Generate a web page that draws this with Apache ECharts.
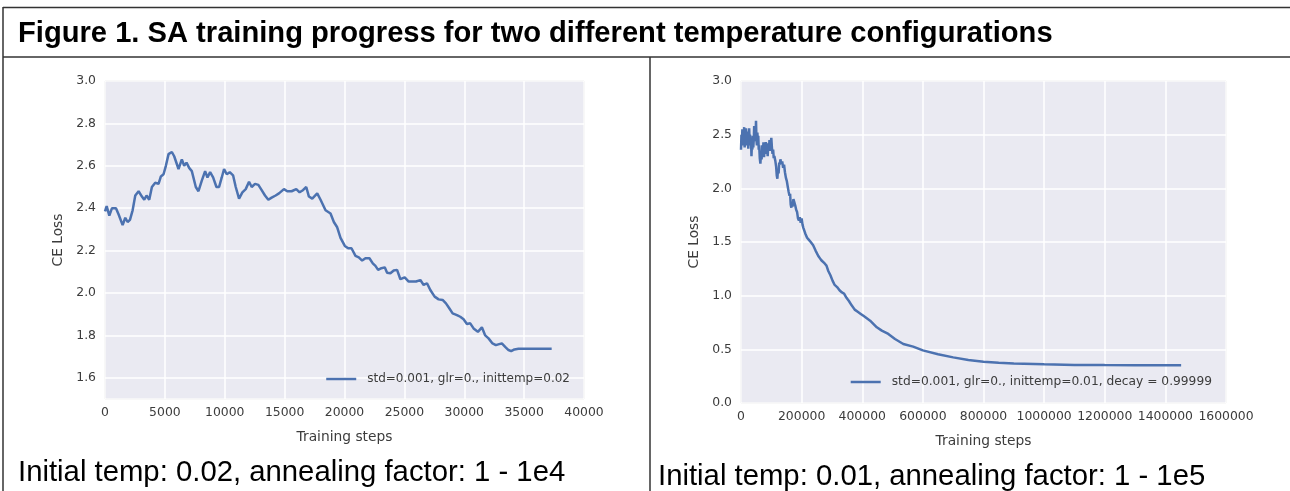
<!DOCTYPE html>
<html>
<head>
<meta charset="utf-8">
<script src="https://cdn.jsdelivr.net/npm/echarts@6/dist/echarts.min.js"></script>
<style>
html,body{margin:0;padding:0;background:#fff;}
#c{width:1290px;height:491px;}
</style>
</head>
<body>
<div id="c"></div>
<script>
// ---- text ----
var figTitle = 'Figure 1. SA training progress for two different temperature configurations';
var captionLeft = 'Initial temp: 0.02, annealing factor: 1 - 1e4';
var captionRight = 'Initial temp: 0.01, annealing factor: 1 - 1e5';
var nameLeft = 'std=0.001, glr=0., inittemp=0.02';
var nameRight = 'std=0.001, glr=0., inittemp=0.01, decay = 0.99999';
var xName = 'Training steps';
var yName = 'CE Loss';

// ---- left chart data ----
var leftSteps = [0,139,361,583,917,1139,1472,1694,1889,2083,2306,2528,2806,3083,3278,3472,3694,3917,4194,4472,4667,4889,5083,5306,5583,5778,6139,6417,6611,6806,7028,7250,7583,7806,8083,8361,8556,8778,9028,9306,9528,9750,9944,10167,10417,10694,10917,11194,11472,11750,12028,12250,12528,12806,13083,13361,13639,13917,14250,14528,14944,15222,15583,15972,16250,16528,16806,17028,17306,17722,18000,18417,18833,19111,19389,19667,20028,20306,20583,20917,21194,21472,21750,22083,22361,22583,22806,23083,23361,23556,23833,24111,24389,24667,25028,25361,25639,25972,26333,26611,26889,27167,27528,27861,28194,28472,28750,29028,29389,29667,29944,30222,30500,30778,31139,31472,31750,32028,32361,32639,32917,33139,33417,33694,33917,34194,34528,35361,36472,37300];
var leftLoss  = [2.385,2.41,2.365,2.40,2.40,2.37,2.32,2.355,2.335,2.345,2.39,2.46,2.48,2.455,2.44,2.46,2.44,2.50,2.52,2.515,2.55,2.56,2.60,2.655,2.665,2.645,2.585,2.63,2.60,2.615,2.59,2.575,2.50,2.48,2.53,2.575,2.545,2.57,2.545,2.50,2.50,2.545,2.585,2.56,2.57,2.555,2.50,2.445,2.475,2.49,2.525,2.50,2.515,2.51,2.485,2.46,2.44,2.45,2.46,2.47,2.49,2.48,2.48,2.49,2.475,2.485,2.50,2.455,2.445,2.47,2.44,2.39,2.375,2.335,2.31,2.26,2.222,2.211,2.211,2.175,2.168,2.153,2.164,2.164,2.14,2.128,2.109,2.117,2.121,2.096,2.093,2.106,2.109,2.065,2.074,2.054,2.054,2.054,2.061,2.038,2.046,2.014,1.983,1.970,1.967,1.951,1.928,1.904,1.896,1.888,1.876,1.854,1.857,1.833,1.817,1.838,1.80,1.786,1.762,1.754,1.759,1.762,1.746,1.731,1.726,1.734,1.737,1.737,1.737,1.737];

// ---- right chart data ----
var rightSteps = [0,1500,3000,4500,6000,7500,9000,10500,12000,13500,15000,16500,18000,19500,21000,22500,24000,25500,27000,28500,30000,31500,33000,34500,36000,37500,39000,40500,42000,43500,45000,46500,48000,49500,51000,52500,54000,55500,57000,58500,60000,62000,64000,66000,68000,70000,72000,74000,76000,78000,80000,82000,84000,86000,88000,90000,92000,94000,96000,98000,100000,102000,104000,106000,108000,110000,113000,116000,118000,120000,122000,124000,126000,128000,130000,133000,136000,139000,142000,145000,148000,151000,154000,157000,160000,162000,164000,166000,168000,170000,173000,176000,179000,182000,185000,188000,191000,194000,197000,200000,203000,206000,209000,212000,215000,218000,221000,224000,227000,230000,234000,238000,242000,246000,250000,255000,260000,265000,270000,276000,282000,288000,295000,302000,309000,317000,325000,333000,340000,348000,356000,365000,375000,385000,395000,405000,426000,448000,464500,486000,508000,535500,568000,600000,650000,700000,750000,800000,850000,900000,1000000,1100000,1200000,1300000,1452000];
var rightLoss  = [2.36,2.50,2.42,2.55,2.40,2.52,2.44,2.57,2.38,2.50,2.45,2.56,2.40,2.52,2.46,2.53,2.37,2.48,2.56,2.42,2.50,2.40,2.47,2.30,2.42,2.36,2.49,2.38,2.45,2.58,2.44,2.55,2.47,2.63,2.45,2.40,2.52,2.44,2.49,2.36,2.40,2.28,2.23,2.34,2.27,2.40,2.30,2.43,2.29,2.38,2.33,2.43,2.32,2.40,2.30,2.42,2.36,2.45,2.35,2.41,2.47,2.38,2.32,2.36,2.28,2.30,2.26,2.20,2.12,2.09,2.18,2.14,2.24,2.22,2.27,2.23,2.25,2.19,2.22,2.15,2.10,2.07,2.02,1.97,1.93,1.95,1.85,1.82,1.86,1.83,1.90,1.87,1.84,1.80,1.78,1.72,1.70,1.73,1.68,1.72,1.66,1.63,1.62,1.58,1.57,1.54,1.55,1.52,1.53,1.50,1.49,1.47,1.46,1.42,1.41,1.37,1.35,1.33,1.32,1.30,1.28,1.23,1.19,1.14,1.10,1.08,1.05,1.03,1.02,0.98,0.95,0.91,0.87,0.85,0.83,0.81,0.767,0.705,0.674,0.643,0.596,0.55,0.525,0.49,0.455,0.425,0.40,0.385,0.375,0.368,0.36,0.355,0.353,0.352,0.352];

// ---- axes ----
var leftXMax = 40000, leftXInterval = 5000;
var leftYMin = 1.5, leftYMax = 3.0;
var rightXMax = 1600000, rightXInterval = 200000;
var rightYMin = 0, rightYMax = 3.0, rightYInterval = 0.5;

function pairs(xs, ys){ var o=[]; for (var i=0;i<xs.length;i++) o.push([xs[i], ys[i]]); return o; }

var FONT = '"Liberation Sans", Arial, sans-serif';
var CFONT = '"DejaVu Sans", sans-serif';
var tickColor = '#3c3c3c';
var lineColor = '#4C72B0';
var bg = '#EAEAF2';

function xAxisCfg(gi, max, interval){
  return {
    type:'value', gridIndex:gi, min:0, max:max, interval:interval,
    name:xName, nameLocation:'middle', nameGap:31,
    nameTextStyle:{color:tickColor, fontSize:13.8, fontFamily:CFONT},
    axisLine:{show:false}, axisTick:{show:false},
    axisLabel:{color:tickColor, fontSize:12.4, fontFamily:CFONT, margin:8,
      formatter:function(v){ return String(v); }},
    splitLine:{show:true, lineStyle:{color:'#ffffff', width:1.5}}
  };
}
function yAxisCfg(gi, min, max, interval, split){
  var c = {
    type:'value', gridIndex:gi, min:min, max:max,
    name:yName, nameLocation:'middle', nameGap:40,
    nameTextStyle:{color:tickColor, fontSize:13.8, fontFamily:CFONT},
    axisLine:{show:false}, axisTick:{show:false},
    axisLabel:{color:tickColor, fontSize:12.4, fontFamily:CFONT, margin:9, showMinLabel: min!==1.5,
      formatter:function(v){ return v.toFixed(1); }},
    splitLine:{show:true, lineStyle:{color:'#ffffff', width:1.5}}
  };
  if (interval) c.interval = interval; else c.splitNumber = split;
  return c;
}

var chart = echarts.init(document.getElementById('c'), null, {renderer:'canvas'});
chart.setOption({
  backgroundColor:'#ffffff',
  animation:false,
  title:[
    {text:figTitle, left:13, top:14, textStyle:{fontFamily:FONT, fontWeight:'bold', fontSize:29.15, color:'#000'}},
    {text:captionLeft, left:13, top:453, textStyle:{fontFamily:FONT, fontWeight:'normal', fontSize:29.3, color:'#000'}},
    {text:captionRight, left:653, top:457, textStyle:{fontFamily:FONT, fontWeight:'normal', fontSize:29.3, color:'#000'}}
  ],
  grid:[
    {left:105, top:81, width:479, height:318, show:true, backgroundColor:bg, borderColor:'#c4c4c8', borderWidth:1},
    {left:741, top:81, width:485, height:322, show:true, backgroundColor:bg, borderColor:'#c4c4c8', borderWidth:1}
  ],
  xAxis:[ xAxisCfg(0, leftXMax, leftXInterval), xAxisCfg(1, rightXMax, rightXInterval) ],
  yAxis:[ yAxisCfg(0, leftYMin, leftYMax, null, 7), yAxisCfg(1, rightYMin, rightYMax, rightYInterval) ],
  legend:[
    {data:[nameLeft], right:715, top:368, icon:'rect', itemWidth:30, itemHeight:2.5,
     textStyle:{color:tickColor, fontSize:12.0, fontFamily:CFONT, padding:[0,0,0,6]}},
    {data:[nameRight], right:73, top:371, icon:'rect', itemWidth:30, itemHeight:2.5,
     textStyle:{color:tickColor, fontSize:12.25, fontFamily:CFONT, padding:[0,0,0,6]}}
  ],
  series:[
    {type:'line', name:nameLeft, xAxisIndex:0, yAxisIndex:0, data:pairs(leftSteps,leftLoss),
     showSymbol:false, lineStyle:{color:lineColor, width:2.5}, itemStyle:{color:lineColor}},
    {type:'line', name:nameRight, xAxisIndex:1, yAxisIndex:1, data:pairs(rightSteps,rightLoss),
     showSymbol:false, lineStyle:{color:lineColor, width:2.5}, itemStyle:{color:lineColor}}
  ],
  graphic:[
    {type:'line', shape:{x1:3, y1:7.5, x2:1290, y2:7.5}, style:{stroke:'#333', lineWidth:1.5}},
    {type:'line', shape:{x1:3, y1:7, x2:3, y2:491}, style:{stroke:'#333', lineWidth:1.5}},
    {type:'line', shape:{x1:3, y1:57, x2:1290, y2:57}, style:{stroke:'#333', lineWidth:1.5}},
    {type:'line', shape:{x1:650, y1:57, x2:650, y2:491}, style:{stroke:'#333', lineWidth:1.5}}
  ]
});
</script>
</body>
</html>
